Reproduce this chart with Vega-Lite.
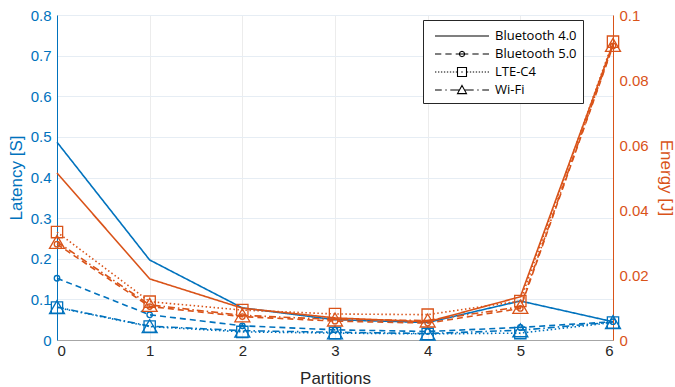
{
  "$schema": "https://vega.github.io/schema/vega-lite/v6.json",
  "width": 556,
  "height": 325,
  "autosize": {"type": "none"},
  "padding": {"left": 57, "top": 15, "right": 62, "bottom": 47},
  "background": "white",
  "config": {
    "font": "Liberation Sans",
    "view": {"stroke": "#dcdcdc"},
    "axis": {"labelFontSize": 15, "titleFontSize": 17, "titleFontWeight": "normal", "ticks": false, "labelFont": "Liberation Sans", "titleFont": "Liberation Sans"}
  },
  "data": {
    "values": [
      {"p": 0, "s": "Bluetooth 4.0", "lat": 0.487, "en": 0.0514},
      {"p": 1, "s": "Bluetooth 4.0", "lat": 0.197, "en": 0.0188},
      {"p": 2, "s": "Bluetooth 4.0", "lat": 0.079, "en": 0.0098},
      {"p": 3, "s": "Bluetooth 4.0", "lat": 0.050, "en": 0.0068},
      {"p": 4, "s": "Bluetooth 4.0", "lat": 0.043, "en": 0.0056},
      {"p": 5, "s": "Bluetooth 4.0", "lat": 0.096, "en": 0.0133},
      {"p": 6, "s": "Bluetooth 4.0", "lat": 0.045, "en": 0.0912},
      {"p": 0, "s": "Bluetooth 5.0", "lat": 0.152, "en": 0.0295},
      {"p": 1, "s": "Bluetooth 5.0", "lat": 0.062, "en": 0.0103},
      {"p": 2, "s": "Bluetooth 5.0", "lat": 0.035, "en": 0.0072},
      {"p": 3, "s": "Bluetooth 5.0", "lat": 0.025, "en": 0.0058},
      {"p": 4, "s": "Bluetooth 5.0", "lat": 0.021, "en": 0.0052},
      {"p": 5, "s": "Bluetooth 5.0", "lat": 0.031, "en": 0.0097},
      {"p": 6, "s": "Bluetooth 5.0", "lat": 0.045, "en": 0.0905},
      {"p": 0, "s": "LTE-C4", "lat": 0.080, "en": 0.0332},
      {"p": 1, "s": "LTE-C4", "lat": 0.033, "en": 0.0118},
      {"p": 2, "s": "LTE-C4", "lat": 0.020, "en": 0.0092},
      {"p": 3, "s": "LTE-C4", "lat": 0.017, "en": 0.0080},
      {"p": 4, "s": "LTE-C4", "lat": 0.015, "en": 0.0078},
      {"p": 5, "s": "LTE-C4", "lat": 0.017, "en": 0.0120},
      {"p": 6, "s": "LTE-C4", "lat": 0.043, "en": 0.0918},
      {"p": 0, "s": "Wi-Fi", "lat": 0.081, "en": 0.0302},
      {"p": 1, "s": "Wi-Fi", "lat": 0.034, "en": 0.0108},
      {"p": 2, "s": "Wi-Fi", "lat": 0.023, "en": 0.0076},
      {"p": 3, "s": "Wi-Fi", "lat": 0.019, "en": 0.0063},
      {"p": 4, "s": "Wi-Fi", "lat": 0.016, "en": 0.0060},
      {"p": 5, "s": "Wi-Fi", "lat": 0.024, "en": 0.0102},
      {"p": 6, "s": "Wi-Fi", "lat": 0.044, "en": 0.0908}
    ]
  },
  "encoding": {
    "x": {
      "field": "p", "type": "quantitative",
      "scale": {"domain": [0, 6], "nice": false},
      "axis": {"values": [0, 1, 2, 3, 4, 5, 6], "format": "d", "title": "Partitions", "labelColor": "#262626", "titleColor": "#262626", "domainColor": "#a6a6a6", "gridColor": "#ececec", "labelPadding": 3, "titlePadding": 12}
    }
  },
  "layer": [
    {
      "layer": [
        {
          "mark": {"type": "line", "color": "#0072BD", "strokeWidth": 1.6},
          "encoding": {
            "y": {
              "field": "lat", "type": "quantitative",
              "scale": {"domain": [0, 0.8], "nice": false},
              "axis": {"orient": "left", "values": [0, 0.1, 0.2, 0.3, 0.4, 0.5, 0.6, 0.7, 0.8], "format": ".1~f", "title": "Latency [S]", "labelColor": "#0072BD", "titleColor": "#0072BD", "domainColor": "#0072BD", "gridColor": "#e6edf4", "labelPadding": 6, "titlePadding": 5}
            },
            "strokeDash": {
              "field": "s", "type": "nominal",
              "scale": {"domain": ["Bluetooth 4.0", "Bluetooth 5.0", "LTE-C4", "Wi-Fi"], "range": [[1, 0], [6, 4], [1.5, 2.5], [7, 3, 1.5, 3]]},
              "legend": null
            }
          }
        },
        {
          "transform": [{"filter": "datum.s !== 'Bluetooth 4.0'"}],
          "mark": {"type": "point", "color": "#0072BD", "filled": false, "strokeWidth": 1.3, "opacity": 1},
          "encoding": {
            "y": {"field": "lat", "type": "quantitative"},
            "shape": {"field": "s", "type": "nominal", "scale": {"domain": ["Bluetooth 5.0", "LTE-C4", "Wi-Fi"], "range": ["circle", "square", "triangle-up"]}, "legend": null},
            "size": {"field": "s", "type": "nominal", "scale": {"domain": ["Bluetooth 5.0", "LTE-C4", "Wi-Fi"], "range": [30, 225, 170]}, "legend": null}
          }
        }
      ]
    },
    {
      "layer": [
        {
          "mark": {"type": "line", "color": "#D95319", "strokeWidth": 1.6},
          "encoding": {
            "y": {
              "field": "en", "type": "quantitative",
              "scale": {"domain": [0, 0.1], "nice": false},
              "axis": {"orient": "right", "values": [0, 0.02, 0.04, 0.06, 0.08, 0.1], "format": ".2~f", "title": "Energy [J]", "labelColor": "#D95319", "titleColor": "#D95319", "domainColor": "#D95319", "grid": false, "labelPadding": 6, "titlePadding": 8}
            },
            "strokeDash": {
              "field": "s", "type": "nominal",
              "scale": {"domain": ["Bluetooth 4.0", "Bluetooth 5.0", "LTE-C4", "Wi-Fi"], "range": [[1, 0], [6, 4], [1.5, 2.5], [7, 3, 1.5, 3]]},
              "legend": null
            }
          }
        },
        {
          "transform": [{"filter": "datum.s !== 'Bluetooth 4.0'"}],
          "mark": {"type": "point", "color": "#D95319", "filled": false, "strokeWidth": 1.3, "opacity": 1},
          "encoding": {
            "y": {"field": "en", "type": "quantitative"},
            "shape": {"field": "s", "type": "nominal", "scale": {"domain": ["Bluetooth 5.0", "LTE-C4", "Wi-Fi"], "range": ["circle", "square", "triangle-up"]}, "legend": null},
            "size": {"field": "s", "type": "nominal", "scale": {"domain": ["Bluetooth 5.0", "LTE-C4", "Wi-Fi"], "range": [30, 225, 170]}, "legend": null}
          }
        }
      ]
    },
    {
      "mark": {"type": "point", "opacity": 0, "filled": false},
      "encoding": {
        "y": {"field": "lat", "type": "quantitative", "axis": null, "scale": {"domain": [0, 0.8]}},
        "shape": {
          "field": "s", "type": "nominal",
          "scale": {
            "domain": ["Bluetooth 4.0", "Bluetooth 5.0", "LTE-C4", "Wi-Fi"],
            "range": [
              "M-3,0L3,0",
              "M-3,0L-2.3,0M-1.85,0L-1.15,0M-0.7,0L-0.35,0M0.35,0L0.7,0M1.15,0L1.85,0M2.3,0L3,0M0.3,0L0.21,0.21L0,0.3L-0.21,0.21L-0.3,0L-0.21,-0.21L0,-0.3L0.21,-0.21ZM-0.3,0L0.3,0",
              "M-3,0L-2.85,0M-2.67,0L-2.52,0M-2.34,0L-2.19,0M-2.01,0L-1.86,0M-1.68,0L-1.53,0M-1.35,0L-1.2,0M-1.02,0L-0.87,0M-0.69,0L-0.54,0M0.54,0L0.69,0M0.87,0L1.02,0M1.2,0L1.35,0M1.53,0L1.68,0M1.86,0L2.01,0M2.19,0L2.34,0M2.52,0L2.67,0M2.85,0L3,0M-0.5,-0.5L0.5,-0.5L0.5,0.5L-0.5,0.5ZM-0.08,0L0.08,0",
              "M-3,0L-2.25,0M-1.85,0L-1.7,0M-1.3,0L-0.3,0M0.3,0L1.3,0M1.7,0L1.85,0M2.25,0L3,0M0,-0.5L0.5,0.4L-0.5,0.4Z"
            ]
          },
          "legend": {
            "orient": "none", "legendX": 366, "legendY": 5, "title": null,
            "symbolSize": 324, "symbolStrokeColor": "black", "symbolFillColor": "transparent", "symbolStrokeWidth": 1.1, "symbolOpacity": 1,
            "symbolOffset": 23, "labelOffset": 23,
            "labelFont": "Open Sans", "labelFontSize": 13, "labelColor": "black",
            "padding": 6, "rowPadding": 1, "fillColor": "white", "strokeColor": "#262626"
          }
        }
      }
    }
  ],
  "resolve": {"scale": {"y": "independent", "shape": "independent", "size": "independent", "strokeDash": "independent"}}
}
